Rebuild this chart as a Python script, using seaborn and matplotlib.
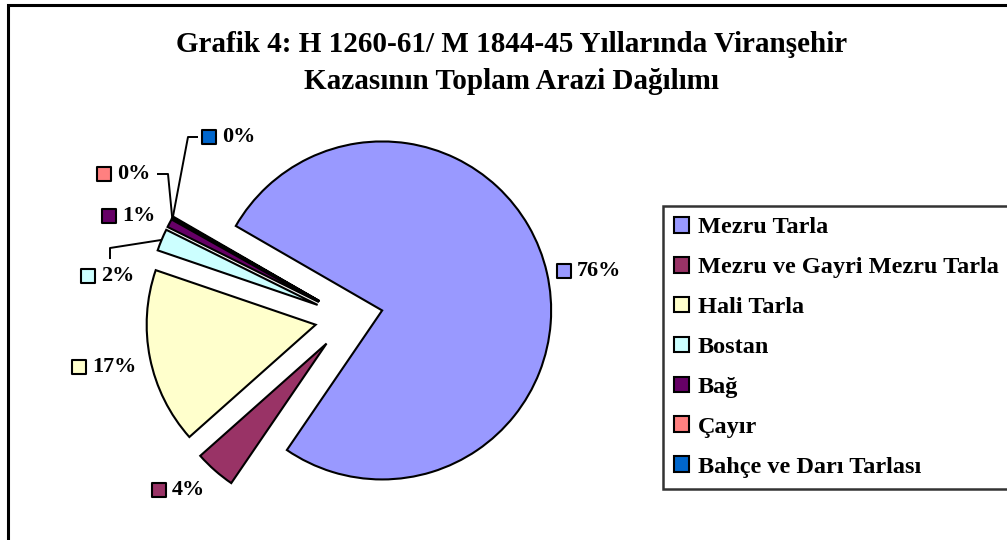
import numpy as np
import matplotlib
matplotlib.use("Agg")
import matplotlib.pyplot as plt
import seaborn as sns
from matplotlib.patches import Rectangle

# data
categories = ["Mezru Tarla", "Mezru ve Gayri Mezru Tarla", "Hali Tarla", "Bostan",
              "Bağ", "Çayır", "Bahçe ve Darı Tarlası"]
shares = [76.2, 3.9, 16.8, 2.1, 0.8, 0.1, 0.1]
colors = ["#9999FF", "#993366", "#FFFFCC", "#CCFFFF", "#660066", "#FF8080", "#0066CC"]

title = "Grafik 4: H 1260-61/ M 1844-45 Yıllarında Viranşehir\nKazasının Toplam Arazi Dağılımı"

sns.set_style("white")
plt.rcParams['font.family'] = ['Liberation Serif', 'DejaVu Serif']
plt.rcParams['font.weight'] = 'bold'
plt.rcParams['text.color'] = 'black'

W, H = 1007, 540
fig = plt.figure(figsize=(W / 100, H / 100), dpi=100)
ax = fig.add_axes([0, 0, 1, 1])
ax.axis('off')

# outer chart border (right/bottom cut off in the original)
ax.add_patch(Rectangle((8, -20), W + 20, H - 5 + 20, fill=False, lw=2.2, ec='black', zorder=0))

cx, cy, rad = 349, H - 318, 169
wedges, _ = ax.pie(shares, colors=colors, startangle=150, counterclock=False,
                   explode=[34] * len(shares), center=(cx, cy), radius=rad,
                   wedgeprops=dict(edgecolor='black', linewidth=1.5))
ax.set_xlim(0, W)
ax.set_ylim(0, H)
ax.set_aspect('equal')

# label placement (screen px: square x, center y); small slices use leaders
label_pos = [(564, 271), (159, 490), (79, 367), (88, 276), (109, 216), (104, 174), (209, 137)]
leader_elbow = [None, None, None, (110, 248), None, (168, 174), (188, 137)]
leader_start = [None, None, None, (110, 259), None, (157, 174), (198, 137)]

for i, w in enumerate(wedges):
    sx, sy = label_pos[i]
    ax.scatter([sx], [H - sy], marker='s', s=95, color=colors[i], edgecolor='black',
               linewidth=1.5, zorder=5)
    ax.text(sx + 13, H - sy, f"{round(shares[i])}%", fontsize=16, fontweight='bold',
            ha='left', va='center', zorder=5)
    if leader_elbow[i] is not None:
        mid = np.deg2rad((w.theta1 + w.theta2) / 2)
        ox, oy = w.center
        px = ox + w.r * np.cos(mid)
        py = oy + w.r * np.sin(mid)
        ex, ey = leader_elbow[i]
        bx, by = leader_start[i]
        ax.plot([bx, ex, px], [H - by, H - ey, py], color='black', lw=1.4, zorder=4,
                solid_capstyle='butt')

ax.text(W / 2 + 8, H - 63, title, ha='center', va='center', fontsize=21,
        fontweight='bold', linespacing=1.45)

leg = ax.legend(wedges, categories, loc='upper left', bbox_to_anchor=(663 / W, 1 - 206 / H),
                bbox_transform=fig.transFigure, borderaxespad=0, frameon=True,
                fancybox=False, edgecolor='black', prop=dict(size=17.5, weight='bold'),
                handlelength=0.62, handleheight=0.62, handletextpad=0.35,
                labelspacing=0.76, borderpad=0.45)
leg.get_frame().set_linewidth(1.8)

fig.savefig("out.png", dpi=100)
